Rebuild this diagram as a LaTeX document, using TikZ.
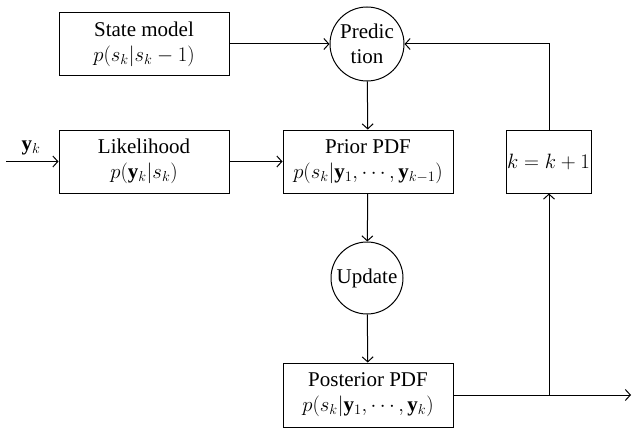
\documentclass[tikz,border=0pt]{standalone}
\usepackage{fontspec}
\setmainfont{Liberation Serif}
\usetikzlibrary{arrows.meta}
\begin{document}
\begin{tikzpicture}[x=1pt,y=-1pt,
  line width=1pt,
  >={Straight Barb[length=5pt,width=11pt]},
  every node/.style={font=\fontsize{21}{25}\selectfont},
  blockbox/.style={draw,rectangle,align=center,inner sep=0pt,minimum width=170pt,minimum height=63pt},
  roundop/.style={draw,circle,align=center,inner sep=0pt,minimum size=74pt}]
  \useasboundingbox (0,0) rectangle (632,428);

  % blocks
  \node[blockbox] (state) at (144,44) {State model\\$p(s_k|s_k-1)$};
  \node[roundop] (pred) at (367,44) {Predic\\tion};
  \node[blockbox] (like) at (144,161.5) {Likelihood\\$p(\mathbf{y}_k|s_k)$};
  \node[blockbox] (prior) at (368,161.5) {Prior PDF\\$p(s_k|\mathbf{y}_1,\cdots,\mathbf{y}_{k-1})$};
  \node[blockbox,minimum width=85pt] (inc) at (548.5,161.5) {$k=k+1$};
  \node[roundop,minimum size=72pt] (upd) at (367,278) {Update};
  \node[blockbox,minimum height=64pt] (post) at (368,395) {Posterior PDF\\$p(s_k|\mathbf{y}_1,\cdots,\mathbf{y}_k)$};

  % free ends and corners
  \coordinate (in) at (6,161.5);
  \node (ylab) at (31,148) {$\mathbf{y}_k$};
  \coordinate (branch) at (549,395);
  \coordinate (out) at (631,395);
  \coordinate (corner) at (549,44);

  % connectors
  \draw[->] (state) -- (pred);
  \draw[->] (pred) -- (prior);
  \draw[->] (in) -- (like);
  \draw[->] (like) -- (prior);
  \draw[->] (prior) -- (upd);
  \draw[->] (upd) -- (post);
  \draw[->] (post.east) -- (out);
  \draw[->] (branch) -- (inc.south -| branch);
  \draw[->] (inc.north -| corner) -- (corner) -- (pred.east);
\end{tikzpicture}
\end{document}
